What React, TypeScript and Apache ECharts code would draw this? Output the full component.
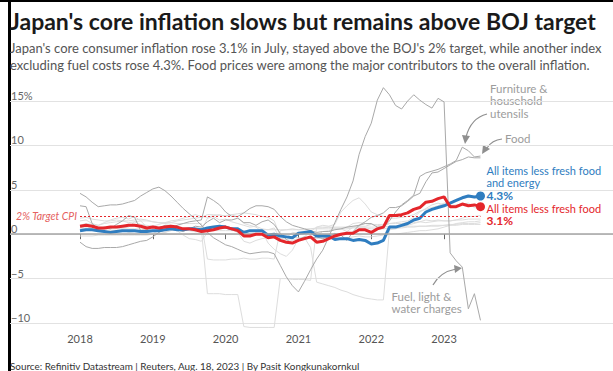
import React, { useEffect, useRef } from "react";
import * as echarts from "echarts";

const START_YEAR = 2018;
const YEAR_TICKS = [2018, 2019, 2020, 2021, 2022, 2023];

// Monthly year-on-year % change, Jan 2018 - Jul 2023
const lessFreshFood = [
  0.9, 1.0, 0.9, 0.7, 0.7, 0.8, 0.8, 0.9, 1.0, 1.0, 0.9, 0.7,
  0.8, 0.7, 0.8, 0.9, 0.8, 0.6, 0.6, 0.5, 0.3, 0.4, 0.5, 0.7,
  0.8, 0.6, 0.4, -0.2, -0.2, 0.0, 0.0, -0.4, -0.3, -0.7, -0.9, -1.0,
  -0.7, -0.5, -0.3, -0.9, -0.8, -0.5, -0.2, 0.0, 0.1, 0.1, 0.5, 0.5,
  0.2, 0.6, 0.8, 2.1, 2.1, 2.2, 2.4, 2.8, 3.0, 3.6, 3.7, 4.0,
  4.2, 3.1, 3.1, 3.4, 3.2, 3.3, 3.1,
];
const lessFreshFoodEnergy = [
  0.4, 0.5, 0.5, 0.4, 0.3, 0.2, 0.3, 0.4, 0.4, 0.4, 0.3, 0.3,
  0.4, 0.4, 0.5, 0.6, 0.5, 0.5, 0.6, 0.6, 0.5, 0.7, 0.8, 0.9,
  0.8, 0.6, 0.6, 0.2, 0.4, 0.4, 0.4, -0.1, 0.0, -0.2, -0.3, -0.4,
  0.1, 0.2, 0.3, -0.2, -0.2, -0.2, -0.6, -0.5, -0.5, -0.7, -0.6, -0.7,
  -1.1, -1.0, -0.7, 0.8, 0.8, 1.0, 1.2, 1.6, 1.8, 2.5, 2.8, 3.0,
  3.2, 3.5, 3.8, 4.1, 4.3, 4.2, 4.3,
];
const fuelLightWater = [
  4.6, 4.2, 3.6, 3.1, 3.2, 3.3, 3.3, 3.4, 3.6, 3.8, 4.3, 4.7,
  5.1, 5.3, 4.9, 4.3, 3.6, 2.9, 2.3, 1.7, 1.0, 0.2, -0.4, -0.8,
  -1.2, -1.4, -1.7, -2.0, -2.2, -2.1, -2.0, -2.0, -2.2, -3.5, -4.8, -5.8,
  -6.5, -5.3, -4.0, -2.8, -1.8, -0.3, 1.3, 2.8, 4.2, 6.0, 9.0, 11.0,
  12.5, 15.1, 16.5, 15.7, 14.5, 14.1, 15.0, 15.7, 15.1, 14.6, 14.2, 15.3,
  14.9, -2.1, -3.0, -3.7, -8.4, -6.7, -9.7,
];
const furniture = [
  -0.9, -1.4, -1.6, -1.6, -1.5, -1.5, -1.5, -1.4, -1.2, -1.0, -0.8, -0.7,
  -0.3, 0.2, 0.5, 0.8, 1.0, 1.2, 1.4, 1.5, 1.6, 4.2, 3.8, 3.3,
  2.5, 2.0, 2.0, 2.4, 2.9, 3.2, 3.2, 3.1, 2.8, 2.0, 1.4, 1.0,
  0.8, 0.6, 0.4, 0.2, 0.3, 0.3, 0.5, 0.6, 0.8, 0.9, 1.0, 1.2,
  1.2, 0.8, 0.8, 1.5, 2.5, 3.3, 3.8, 4.4, 6.5, 6.9, 7.1, 7.3,
  7.6, 7.9, 8.3, 9.8, 9.4, 8.7, 8.8,
];
const food = [
  3.2, 3.1, 1.2, 0.6, 0.8, 0.6, 1.1, 1.5, 2.1, 1.9, 0.4, 0.5,
  0.9, 0.7, 1.0, 1.0, 0.5, 0.3, 0.6, 0.9, 0.8, 1.4, 1.8, 1.3,
  1.6, 1.6, 1.8, 1.3, 1.3, 1.0, 1.4, 1.6, 1.1, 0.1, -0.6, -1.0,
  -0.6, -0.3, -0.5, -0.3, -0.5, -0.3, 0.1, -0.1, -0.7, 0.3, 1.0, 1.4,
  1.9, 2.1, 2.4, 3.0, 3.0, 3.2, 3.7, 4.3, 4.6, 5.9, 6.9, 7.0,
  7.4, 7.8, 8.2, 8.4, 8.7, 8.6, 8.6,
];
const housing = [
  -0.2, -0.2, -0.2, -0.1, -0.1, -0.1, -0.1, -0.1, -0.1, -0.1, -0.1, -0.1,
  0.0, 0.0, 0.0, 0.0, 0.0, 0.0, 0.0, 0.1, 0.1, 0.4, 0.4, 0.4,
  0.4, 0.4, 0.4, 0.4, 0.4, 0.4, 0.5, 0.5, 0.5, 0.5, 0.5, 0.5,
  0.5, 0.5, 0.6, 0.6, 0.6, 0.6, 0.6, 0.6, 0.6, 0.7, 0.7, 0.7,
  0.6, 0.6, 0.6, 0.7, 0.7, 0.7, 0.8, 0.8, 0.9, 0.9, 1.0, 1.0,
  1.0, 1.1, 1.1, 1.2, 1.2, 1.2, 1.3,
];
const clothes = [
  0.8, 0.6, 0.9, 0.5, 0.3, 0.4, 0.4, 0.5, 0.2, 0.3, 0.5, 0.6,
  0.4, 0.3, 0.2, 0.4, 0.6, 0.5, 0.4, 0.3, 0.4, 1.8, 2.0, 1.6,
  1.7, 1.4, 1.2, 1.0, 0.8, 0.9, 0.6, 0.5, 0.7, -0.5, -0.4, 0.2,
  0.1, 0.2, 0.0, -0.2, 0.3, 0.4, 0.6, 0.6, 0.3, 0.8, 0.9, 0.9,
  1.1, 1.0, 0.9, 1.2, 1.3, 1.4, 1.5, 1.9, 2.5, 2.9, 3.3, 3.5,
  3.3, 3.2, 3.3, 3.4, 3.5, 3.0, 2.9,
];
const medical = [
  1.8, 1.9, 1.7, 1.6, 1.5, 1.5, 1.6, 1.5, 1.5, 1.6, 1.7, 1.6,
  1.4, 1.3, 1.2, 1.3, 1.5, 1.6, 1.7, 1.8, 1.9, 2.2, 2.2, 2.1,
  2.1, 2.2, 2.3, 2.4, 2.3, 2.2, 2.0, 1.9, 1.5, -0.2, -0.3, -0.3,
  -0.4, -0.5, -0.4, -0.5, -0.4, -0.3, -0.4, -0.5, -0.4, -0.3, -0.2, -0.3,
  -0.3, -0.2, -0.1, 0.0, 0.0, 0.1, 0.2, 0.3, 0.4, 0.4, 0.5, 0.6,
  0.8, 1.0, 1.2, 1.3, 1.4, 1.4, 1.5,
];
const transportComm = [
  1.5, 1.6, 1.2, 1.0, 1.3, 1.6, 1.8, 1.9, 1.7, 2.0, 1.5, 0.8,
  0.3, 0.0, 0.2, 0.5, 0.4, -0.1, -0.5, -0.6, -0.8, 0.2, 0.5, 0.6,
  0.7, 0.5, 0.2, -0.8, -1.0, -0.7, -0.5, -0.4, -0.4, -0.5, -0.6, -0.7,
  -0.5, -0.4, -1.5, -5.4, -5.6, -5.8, -6.0, -6.3, -6.5, -6.8, -7.0, -7.2,
  -7.3, -7.4, -7.4, 0.5, 0.6, 0.8, 1.0, 1.2, 1.4, 1.6, 1.5, 1.6,
  1.5, 1.5, 1.6, 1.8, 2.0, 2.0, 2.1,
];
const education = [
  0.5, 0.5, 0.5, 0.6, 0.6, 0.6, 0.6, 0.6, 0.6, 0.6, 0.6, 0.6,
  0.6, 0.6, 0.6, 0.6, 0.6, 0.6, 0.6, 0.6, 0.6, -6.7, -6.7, -6.7,
  -6.8, -6.8, -6.8, -10.4, -10.5, -10.5, -10.5, -10.5, -10.5, -5.0, -5.0, -5.1,
  -5.1, -5.1, -5.2, 0.8, 0.8, 0.8, 0.8, 0.8, 0.8, 0.8, 0.8, 0.8,
  0.8, 0.8, 0.8, 0.9, 0.9, 0.9, 0.9, 0.9, 0.9, 0.9, 0.9, 0.9,
  1.0, 1.0, 1.0, 1.1, 1.1, 1.1, 1.1,
];
const culture = [
  1.0, 1.2, 1.1, 1.0, 1.2, 1.3, 1.4, 1.5, 1.3, 1.4, 1.1, 1.0,
  0.9, 1.1, 1.3, 1.5, 1.6, 1.8, 2.0, 2.2, 2.0, 1.9, 2.1, 2.2,
  2.0, 2.2, 1.9, 1.2, 1.0, 0.8, 0.3, -1.0, -1.7, -2.2, -2.5, -1.8,
  -0.5, -0.3, 0.3, 0.8, 1.0, 0.9, 1.1, 2.5, 3.2, 3.8, 4.1, 3.4,
  2.5, 2.2, 2.0, 1.8, 1.8, 1.9, 2.0, 2.2, 2.6, 2.8, 3.0, 3.2,
  3.5, 3.6, 3.8, 4.0, 4.2, 4.1, 4.0,
];
const miscellaneous = [
  0.6, 0.7, 0.6, 0.5, 0.6, 0.6, 0.7, 0.7, 0.8, 1.4, 1.5, 1.5,
  1.4, 1.3, 1.3, 1.3, 1.2, 1.2, 1.2, 1.2, 1.2, -2.8, -2.9, -2.9,
  -2.9, -2.8, -2.8, -2.7, -2.8, -2.8, -2.7, -2.7, -2.8, 0.4, 0.5, 0.6,
  0.5, 0.6, 0.6, 0.7, 0.7, 0.8, 0.7, 0.7, 0.8, 1.2, 1.3, 1.2,
  1.1, 1.1, 1.1, 1.2, 1.2, 1.2, 1.3, 1.3, 1.4, 1.3, 1.4, 1.5,
  1.5, 1.5, 1.6, 1.6, 1.7, 1.7, 1.7,
];

const TARGET = 2;
const TITLE = "Japan's core inflation slows but remains above BOJ target";
const SUBTITLE_1 =
  "Japan's core consumer inflation rose 3.1% in July, stayed above the BOJ's 2% target, while another index";
const SUBTITLE_2 =
  "excluding fuel costs rose 4.3%. Food prices were among the major contributors to the overall inflation.";
const SOURCE = "Source: Refinitiv Datastream | Reuters, Aug. 18, 2023 | By Pasit Kongkunakornkul";

const FONT = "Lato";
const RED = "#e4262b";
const BLUE = "#2f7dc0";
const DARK_GRAY = "#a9a9a9";
const LIGHT_GRAY = "#dddddd";

const N = lessFreshFood.length;
const toPairs = (arr: number[]) => arr.map((v, i) => [START_YEAR + i / 12, v]);

function App() {
  const ref = useRef<HTMLDivElement>(null);
  useEffect(() => {
    if (!ref.current) return;
    const chart = echarts.init(ref.current, undefined, { renderer: "svg" });

    const grayLine = (name: string, data: number[], color: string, z: number) => ({
      name,
      type: "line",
      data: toPairs(data),
      symbol: "none",
      clip: false,
      silent: true,
      z,
      lineStyle: { color, width: 1 },
    });

    const endSymbolSize = (_v: any, p: any) => (p.dataIndex === N - 1 ? 9 : 0);

    chart.setOption({
      animation: false,
      backgroundColor: "#ffffff",
      textStyle: { fontFamily: FONT },
      title: [
        {
          text: TITLE,
          left: 10,
          top: 9,
          padding: 0,
          textStyle: { fontFamily: FONT, fontWeight: "bold", fontSize: 23, color: "#1a1a1a" },
        },
        {
          text: SUBTITLE_1 + "\n" + SUBTITLE_2,
          left: 10,
          top: 40,
          padding: 0,
          textStyle: { fontFamily: FONT, fontWeight: "normal", fontSize: 13, lineHeight: 16.5, color: "#555555" },
        },
        {
          text: SOURCE,
          left: 10,
          top: 361,
          padding: 0,
          textStyle: { fontFamily: FONT, fontWeight: "normal", fontSize: 9.9, color: "#333333" },
        },
      ],
      grid: { left: 10, right: 0, top: 101, bottom: 48 },
      xAxis: {
        type: "value",
        min: 2017.0385,
        max: 2025.32,
        axisLine: { show: false },
        splitLine: { show: false },
        axisTick: { show: true, customValues: YEAR_TICKS, length: 5, lineStyle: { color: "#666" } },
        axisLabel: {
          customValues: YEAR_TICKS,
          formatter: (v: number) => String(v),
          color: "#555",
          fontSize: 11,
          margin: 10,
          fontFamily: FONT,
        },
      },
      yAxis: {
        type: "value",
        min: -10,
        max: 15,
        interval: 5,
        axisLine: { show: false },
        axisTick: { show: false },
        splitLine: { lineStyle: { color: "#e2e2e2", width: 1 } },
        axisLabel: {
          inside: true,
          margin: 1,
          verticalAlign: "bottom",
          color: "#666",
          fontSize: 11,
          fontFamily: FONT,
          formatter: (v: number) => (v === 15 ? "15%" : v < 0 ? "\u2212" + Math.abs(v) : String(v)),
        },
      },
      series: [
        {
          ...grayLine("Housing", housing, LIGHT_GRAY, 1),
          markLine: {
            silent: true,
            symbol: ["none", "none"],
            label: { show: false },
            lineStyle: { color: "#a5a5a5", width: 1.5, type: "solid" },
            data: [{ yAxis: 0 }],
          },
        },
        grayLine("Clothes & footwear", clothes, LIGHT_GRAY, 1),
        grayLine("Medical care", medical, LIGHT_GRAY, 1),
        grayLine("Transportation & communication", transportComm, LIGHT_GRAY, 1),
        grayLine("Education", education, LIGHT_GRAY, 1),
        grayLine("Culture & recreation", culture, LIGHT_GRAY, 1),
        grayLine("Miscellaneous", miscellaneous, LIGHT_GRAY, 1),
        grayLine("Food", food, DARK_GRAY, 2),
        grayLine("Furniture & household utensils", furniture, DARK_GRAY, 2),
        grayLine("Fuel, light & water charges", fuelLightWater, DARK_GRAY, 2),
        {
          name: "All items less fresh food and energy",
          type: "line",
          data: toPairs(lessFreshFoodEnergy),
          z: 4,
          symbol: "circle",
          showSymbol: true,
          showAllSymbol: true,
          symbolSize: endSymbolSize,
          itemStyle: { color: BLUE },
          lineStyle: { color: BLUE, width: 3 },
          endLabel: {
            show: true,
            distance: 6,
            offset: [0, -13.5],
            align: "left",
            verticalAlign: "middle",
            formatter: (p: any) =>
              "{a|All items less fresh food}\n{a|and energy}\n{b|" + p.value[1].toFixed(1) + "%}",
            rich: {
              a: { color: BLUE, fontSize: 11, lineHeight: 12.5, fontFamily: FONT },
              b: { color: BLUE, fontSize: 12, lineHeight: 12.5, fontWeight: "bold", fontFamily: FONT },
            },
          },
        },
        {
          name: "All items less fresh food",
          type: "line",
          data: toPairs(lessFreshFood),
          z: 5,
          symbol: "circle",
          showSymbol: true,
          showAllSymbol: true,
          symbolSize: endSymbolSize,
          itemStyle: { color: RED },
          lineStyle: { color: RED, width: 3 },
          endLabel: {
            show: true,
            distance: 6,
            offset: [0, 8],
            align: "left",
            verticalAlign: "middle",
            formatter: (p: any) => "{a|All items less fresh food}\n{b|" + p.value[1].toFixed(1) + "%}",
            rich: {
              a: { color: RED, fontSize: 11, lineHeight: 12.5, fontFamily: FONT },
              b: { color: RED, fontSize: 12, lineHeight: 12.5, fontWeight: "bold", fontFamily: FONT },
            },
          },
          markLine: {
            silent: true,
            symbol: ["none", "none"],
            lineStyle: { color: RED, width: 1.2, type: [2, 2] },
            label: {
              show: true,
              position: "start",
              distance: 3,
              formatter: TARGET + "% Target CPI",
              color: "#e56060",
              fontStyle: "italic",
              fontSize: 10.5,
              fontFamily: FONT,
            },
            data: [[{ coord: [START_YEAR, TARGET] }, { coord: [START_YEAR + (N - 1) / 12, TARGET] }]],
          },
        },
      ],
      graphic: [
        { type: "rect", left: 0, top: 0, shape: { width: 613, height: 2 }, style: { fill: "#000" } },
        { type: "rect", left: 8, top: 0, shape: { width: 3, height: 371 }, style: { fill: "#000" } },
        {
          type: "text",
          left: 490,
          top: 82,
          style: {
            text: "Furniture &\nhousehold\nutensils",
            fill: "#9c9c9c",
            fontSize: 11.5,
            lineHeight: 12.5,
            fontFamily: FONT,
          },
        },
        {
          type: "text",
          left: 505,
          top: 132,
          style: { text: "Food", fill: "#9c9c9c", fontSize: 11.5, fontFamily: FONT },
        },
        {
          type: "text",
          right: 613 - 462,
          top: 290,
          style: {
            text: "Fuel, light &\nwater charges",
            fill: "#9c9c9c",
            fontSize: 11.5,
            lineHeight: 12.5,
            align: "right",
            fontFamily: FONT,
          },
        },
        {
          type: "bezierCurve",
          shape: { x1: 487, y1: 114, cpx1: 471, cpy1: 118, x2: 466, y2: 137 },
          style: { stroke: "#8f8f8f", lineWidth: 1.2, fill: "none" },
        },
        {
          type: "polygon",
          shape: { points: [[462, 135], [470, 136], [465, 144]] },
          style: { fill: "#8f8f8f" },
        },
        {
          type: "bezierCurve",
          shape: { x1: 502, y1: 139, cpx1: 492, cpy1: 140, x2: 487, y2: 148 },
          style: { stroke: "#8f8f8f", lineWidth: 1.2, fill: "none" },
        },
        {
          type: "polygon",
          shape: { points: [[483, 145], [490, 149], [482, 154]] },
          style: { fill: "#8f8f8f" },
        },
        {
          type: "bezierCurve",
          shape: { x1: 433, y1: 285, cpx1: 440, cpy1: 272, x2: 456, y2: 269 },
          style: { stroke: "#8f8f8f", lineWidth: 1.2, fill: "none" },
        },
        {
          type: "polygon",
          shape: { points: [[454, 265], [455, 273], [462, 268]] },
          style: { fill: "#8f8f8f" },
        },
      ],
    });
    return () => chart.dispose();
  }, []);

  return (
    <div
      ref={ref}
      style={{ position: "absolute", left: 0, top: 0, width: 613, height: 371, background: "#fff" }}
    />
  );
}

export default App;
